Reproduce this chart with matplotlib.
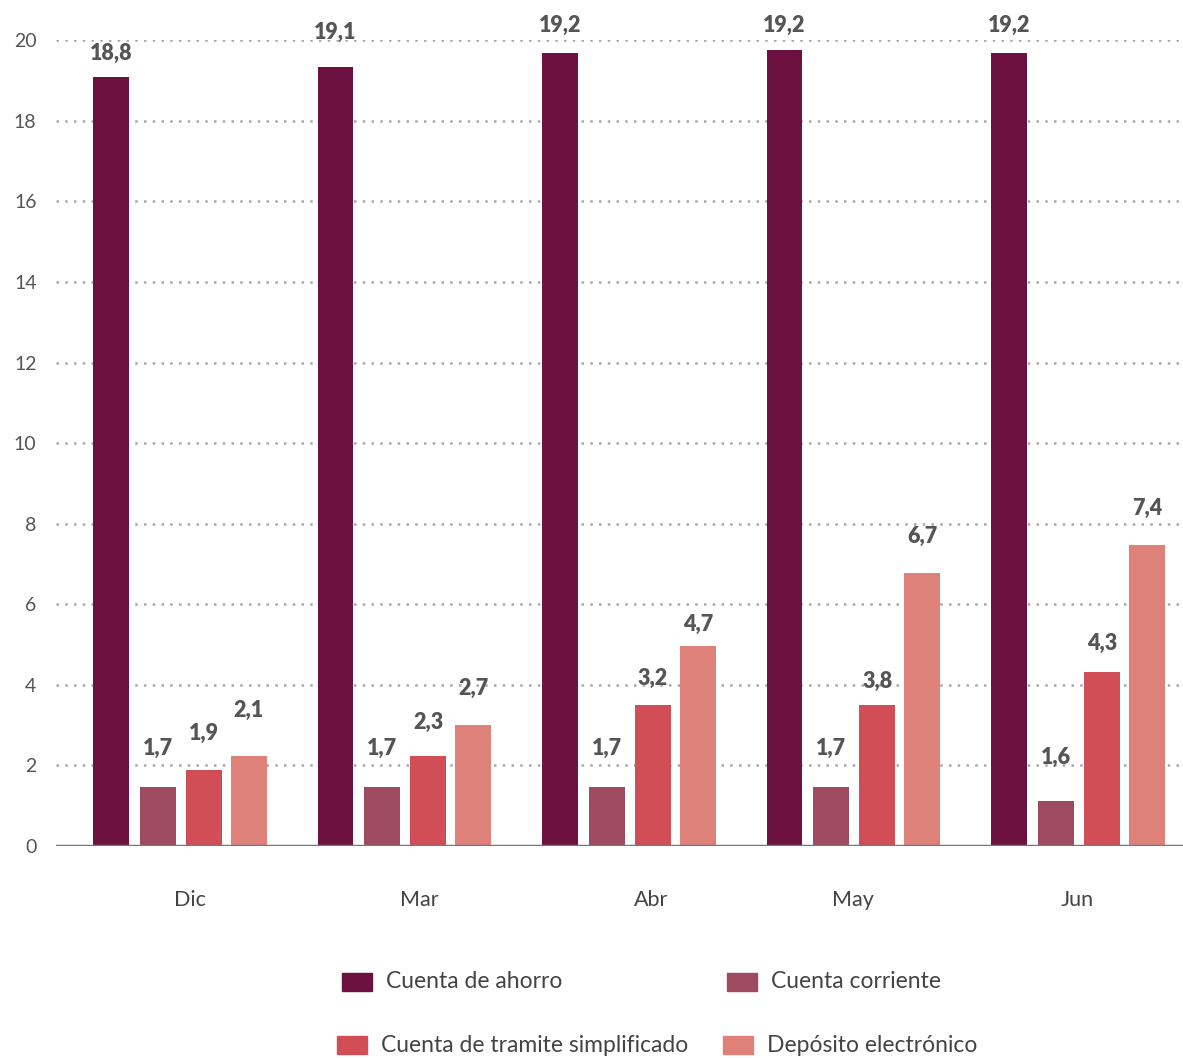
import matplotlib
matplotlib.use("Agg")
import matplotlib.pyplot as plt
from matplotlib.patches import Rectangle
import numpy as np

plt.rcParams['font.family'] = ['Lato', 'DejaVu Sans']

categories = ["Dic", "Mar", "Abr", "May", "Jun"]
series_names = ["Cuenta de ahorro", "Cuenta corriente",
                "Cuenta de tramite simplificado", "Depósito electrónico"]
colors = ["#6d1240", "#9e4b62", "#d14e57", "#de8279"]

# bar heights as drawn
ahorro = [19.08, 19.33, 19.68, 19.75, 19.68]
corriente = [1.46, 1.46, 1.46, 1.46, 1.12]
tramite = [1.89, 2.23, 3.50, 3.50, 4.32]
deposito = [2.23, 3.00, 4.96, 6.77, 7.47]

# value labels as printed
lab_ahorro = ["18,8", "19,1", "19,2", "19,2", "19,2"]
lab_corriente = ["1,7", "1,7", "1,7", "1,7", "1,6"]
lab_tramite = ["1,9", "2,3", "3,2", "3,8", "4,3"]
lab_deposito = ["2,1", "2,7", "4,7", "6,7", "7,4"]

# label heights (data units)
pos_ahorro = [19.68, 20.20, 20.37, 20.37, 20.37]
pos_corriente = [2.43, 2.43, 2.43, 2.43, 2.21]
pos_tramite = [2.80, 3.07, 4.17, 4.09, 5.04]
pos_deposito = [3.37, 3.92, 5.51, 7.69, 8.39]

tick_pos = [0.045, 1.065, 2.098, 2.998, 3.996]
yticks = [0, 2, 4, 6, 8, 10, 12, 14, 16, 18, 20]

values = [ahorro, corriente, tramite, deposito]
labels = [lab_ahorro, lab_corriente, lab_tramite, lab_deposito]
lpos = [pos_ahorro, pos_corriente, pos_tramite, pos_deposito]
offsets = [-0.307, -0.098, 0.107, 0.307]
width = 0.16

fig = plt.figure(figsize=(11.83, 10.58), dpi=100)
ax = fig.add_axes([0.0473, 0.2004, 0.9527, 0.962 - 0.2004])

x = np.arange(len(categories))
for vals, labs, lp, off, col in zip(values, labels, lpos, offsets, colors):
    ax.bar(x + off, vals, width=width, color=col, zorder=3)
    for xi, lab, p in zip(x, labs, lp):
        ax.text(xi + off, p, lab, ha='center', va='center', fontsize=15.5,
                fontweight='heavy', color='#555555', clip_on=False, zorder=4)

ax.set_xlim(-0.552, 4.468)
ax.set_ylim(0, 20)
ax.set_yticks(yticks)
ax.set_yticklabels([str(v) for v in yticks], fontsize=14, color='#555555')
ax.set_xticks(tick_pos)
ax.set_xticklabels(categories, fontsize=15.5, color='#444444')
ax.tick_params(axis='y', length=0, pad=14)
ax.tick_params(axis='x', length=0, pad=32)

for v in yticks[1:]:
    ax.axhline(v, color='#a8a8a8', linestyle=(0, (1, 2.5)), linewidth=1.8, zorder=1)
ax.axhline(0, color='#777777', linewidth=2.5, zorder=5)

for s in ax.spines.values():
    s.set_visible(False)

# legend (manual)
W, H = 1183.0, 1058.0
leg = [
    (342, 982, series_names[0], colors[0]),
    (727, 982, series_names[1], colors[1]),
    (337, 1045, series_names[2], colors[2]),
    (723, 1045, series_names[3], colors[3]),
]
for px, py, name, col in leg:
    fig.add_artist(Rectangle((px / W, 1 - (py + 9) / H), 30 / W, 18 / H,
                             transform=fig.transFigure, color=col))
    fig.text((px + 44) / W, 1 - py / H, name, ha='left', va='center',
             fontsize=16.5, color='#444444')

fig.savefig("out.png", dpi=100)
